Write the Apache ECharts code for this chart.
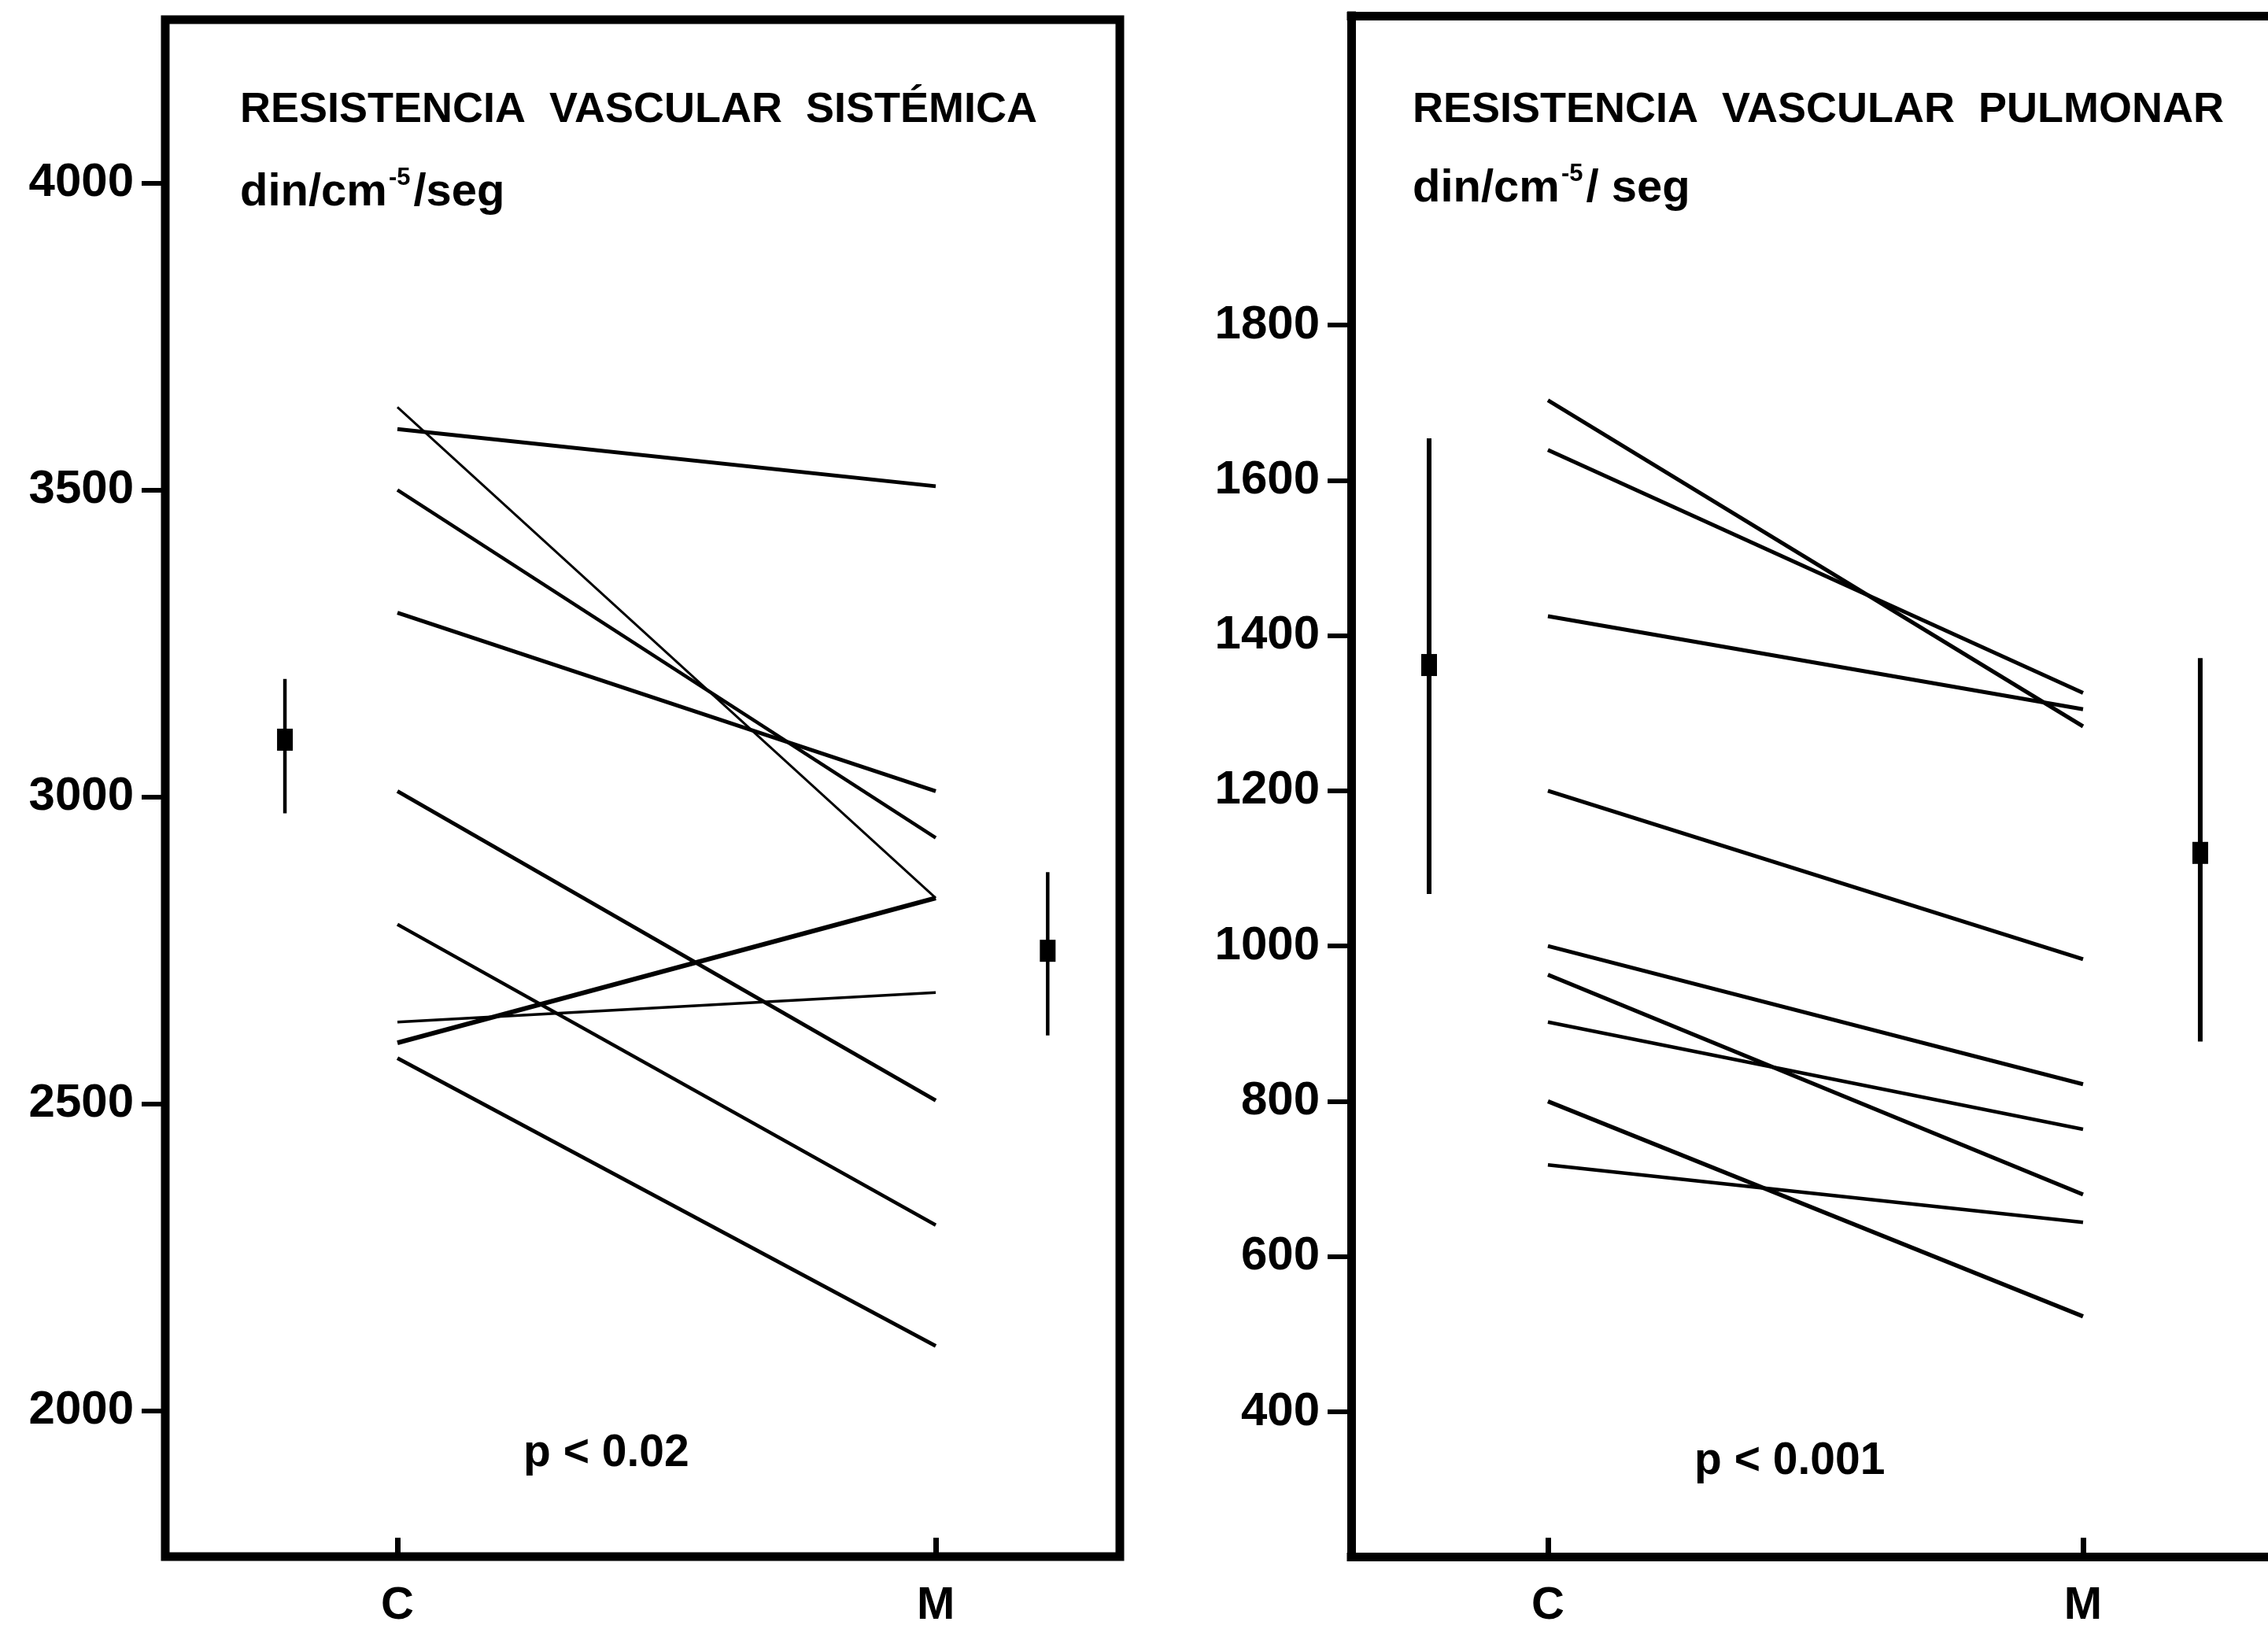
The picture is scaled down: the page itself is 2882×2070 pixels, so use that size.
<!DOCTYPE html>
<html>
<head>
<meta charset="utf-8">
<script src="https://cdn.jsdelivr.net/npm/echarts@6/dist/echarts.min.js"></script>
<style>
html,body{margin:0;padding:0;background:#fff;}
#chart{width:2882px;height:2070px;}
</style>
</head>
<body>
<div id="chart"></div>
<script>
// ---------- data ----------
const categories = ['C', 'M'];

// Resistencia vascular sistémica (din/cm-5/seg)
const sysC = [3635, 3599, 3500, 3300, 3009, 2792, 2633, 2599, 2574];
const sysM = [2835, 3506, 2933, 3009, 2505, 2302, 2681, 2835, 2105];
const sysWidth = [3, 5, 4.5, 5, 5, 4.5, 3.5, 6, 5];
const sysTicks = [2000, 2500, 3000, 3500, 4000];
// mean, low, high  (C group, M group)
const sysErrC = [3093, 2973, 3192];
const sysErrM = [2749, 2611, 2877];

// Resistencia vascular pulmonar
const pulC = [1703, 1639, 1425, 1200, 1000, 963, 902, 800, 718];
const pulM = [1283, 1326, 1305, 983, 822, 680, 764, 523, 644];
const pulWidth = [5, 5, 5, 5, 5, 5, 4.5, 5.5, 4.5];
const pulTicks = [400, 600, 800, 1000, 1200, 1400, 1600, 1800];
const pulErrC = [1362, 1067, 1654];
const pulErrM = [1120, 877, 1371];

// ---------- chart ----------
const FONT = 'Liberation Sans, Arial, sans-serif';
const chart = echarts.init(document.getElementById('chart'));

function lineSeries(cArr, mArr, widths, idx) {
  return cArr.map((c, i) => ({
    type: 'line',
    xAxisIndex: idx, yAxisIndex: idx,
    data: [[0, c], [1, mArr[i]]],
    symbol: 'none',
    lineStyle: { color: '#000', width: widths[i] },
    silent: true,
    z: 3
  }));
}

function errSeries(items, idx, lw) {
  return {
    type: 'custom',
    xAxisIndex: idx, yAxisIndex: idx,
    data: items,
    z: 4,
    renderItem: function (params, api) {
      const x = api.value(0);
      const mean = api.coord([x, api.value(1)]);
      const lo = api.coord([x, api.value(2)]);
      const hi = api.coord([x, api.value(3)]);
      return {
        type: 'group',
        children: [
          { type: 'line', shape: { x1: hi[0], y1: hi[1], x2: lo[0], y2: lo[1] },
            style: { stroke: '#000', lineWidth: lw } },
          { type: 'rect', shape: { x: mean[0] - 10, y: mean[1] - 14, width: 20, height: 28 },
            style: { fill: '#000' } }
        ]
      };
    }
  };
}

const errPosSys = [-0.209, 1.208];
const errPosPul = [-0.222, 1.219];

const FRAME = { color: '#000', width: 11, cap: 'square' };

function yAxisCfg(idx, min, max, ticks, showLine) {
  return {
    type: 'value', gridIndex: idx, min: min, max: max, position: 'left',
    axisLine: { show: showLine, onZero: false, lineStyle: FRAME },
    splitLine: { show: false },
    axisTick: { show: true, customValues: ticks, length: 30, lineStyle: { color: '#000', width: 6 } },
    axisLabel: { show: true, customValues: ticks, margin: 40, color: '#000',
      fontFamily: FONT, fontWeight: 'bold', fontSize: 60, formatter: v => String(v) }
  };
}
function xAxisCfg(idx, min, max, showLine) {
  return {
    type: 'value', gridIndex: idx, min: min, max: max, position: 'bottom',
    axisLine: { show: showLine, onZero: false, lineStyle: FRAME },
    splitLine: { show: false },
    axisTick: { show: true, inside: true, customValues: [0, 1], length: 24, lineStyle: { color: '#000', width: 7 } },
    axisLabel: { show: true, customValues: [0, 1], margin: 34, color: '#000',
      fontFamily: FONT, fontWeight: 'bold', fontSize: 58,
      formatter: v => categories[Math.round(v)] }
  };
}
function topFrameAxis(idx, min, max) {
  return {
    type: 'value', gridIndex: idx, min: min, max: max, position: 'top',
    axisLine: { show: true, onZero: false, lineStyle: FRAME },
    splitLine: { show: false }, axisTick: { show: false }, axisLabel: { show: false }
  };
}

const titleStyle = { color: '#000', fontFamily: FONT, fontWeight: 'bold', fontSize: 54 };
const pStyle = { color: '#000', fontFamily: FONT, fontWeight: 'bold', fontSize: 57 };
const unitRich = {
  a: { color: '#000', fontFamily: FONT, fontWeight: 'bold', fontSize: 58, lineHeight: 68 },
  s: { color: '#000', fontFamily: FONT, fontWeight: 'bold', fontSize: 31, lineHeight: 68, verticalAlign: 'top', padding: [0, 4, 0, 2] }
};

const option = {
  backgroundColor: '#fff',
  animation: false,
  title: [
    { text: 'RESISTENCIA  VASCULAR  SISTÉMICA', left: 300, top: 108, textStyle: titleStyle },
    { text: '{a|din/cm}{s|-5}{a|/seg}', left: 300, top: 206, textStyle: { rich: unitRich } },
    { text: 'p < 0.02', left: 660, top: 1814, textStyle: pStyle },
    { text: 'RESISTENCIA  VASCULAR  PULMONAR', left: 1790, top: 108, textStyle: titleStyle },
    { text: '{a|din/cm}{s|-5}{a|/ seg}', left: 1790, top: 201, textStyle: { rich: unitRich } },
    { text: 'p < 0.001', left: 2148, top: 1824, textStyle: pStyle }
  ],
  grid: [
    { left: 210, top: 25, width: 1213, height: 1956, show: true, borderColor: '#000', borderWidth: 11, backgroundColor: 'transparent' },
    { left: 1717, top: 20, right: 0, height: 1958, show: false }
  ],
  xAxis: [
    xAxisCfg(0, -0.4313, 1.342, false),
    xAxisCfg(1, -0.3676, 1.3456, true),
    topFrameAxis(1, -0.3676, 1.3456)
  ],
  yAxis: [
    yAxisCfg(0, 1761.8, 4266.3, sysTicks, false),
    yAxisCfg(1, 213.5, 2198.4, pulTicks, true)
  ],
  series: [
    ...lineSeries(sysC, sysM, sysWidth, 0),
    ...lineSeries(pulC, pulM, pulWidth, 1),
    errSeries([[errPosSys[0], ...sysErrC], [errPosSys[1], ...sysErrM]], 0, 4.5),
    errSeries([[errPosPul[0], ...pulErrC], [errPosPul[1], ...pulErrM]], 1, 6)
  ]
};
chart.setOption(option);
</script>
</body>
</html>
